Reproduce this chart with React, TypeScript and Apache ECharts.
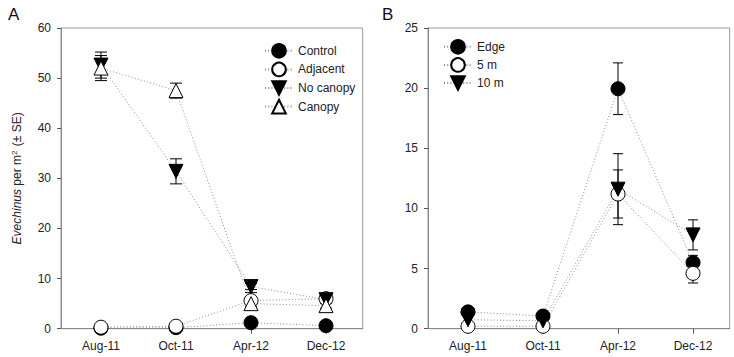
import React, { useEffect, useRef } from "react";
import * as echarts from "echarts";

const categories = ["Aug-11", "Oct-11", "Apr-12", "Dec-12"];
const tickPositions = [0, 1, 2, 3];

// Panel A
const seriesNamesA = ["Control", "Adjacent", "No canopy", "Canopy"];
const controlMean = [0.1, 0.2, 1.2, 0.6];
const controlSE = [0.1, 0.1, 0.5, 0.3];
const adjacentMean = [0.3, 0.5, 5.6, 6.0];
const adjacentSE = [0.2, 0.3, 1.6, 1.0];
const noCanopyMean = [52.6, 31.4, 8.4, 5.8];
const noCanopySE = [2.6, 2.5, 0.6, 0.5];
const canopyMean = [52.0, 47.5, 5.0, 4.6];
const canopySE = [2.5, 1.5, 0.5, 0.5];

// Panel B
const seriesNamesB = ["Edge", "5 m", "10 m"];
const edgeMean = [1.4, 1.05, 19.95, 5.5];
const edgeSE = [0.3, 0.3, 2.15, 0.6];
const fiveMean = [0.2, 0.2, 11.2, 4.6];
const fiveSE = [0.1, 0.1, 2.0, 0.8];
const tenMean = [0.75, 0.65, 11.6, 7.8];
const tenSE = [0.3, 0.3, 2.95, 1.25];

const yTicksA = { min: 0, max: 60, interval: 10 };
const yTicksB = { min: 0, max: 25, interval: 5 };

const FONT = "'Liberation Sans', Arial, sans-serif";

type Style = { symbol: string; rotate: number; filled: boolean };
const STYLE_FILLED_CIRCLE: Style = { symbol: "circle", rotate: 0, filled: true };
const STYLE_OPEN_CIRCLE: Style = { symbol: "circle", rotate: 0, filled: false };
const STYLE_DOWN_TRI: Style = { symbol: "triangle", rotate: 180, filled: true };
const STYLE_UP_TRI: Style = { symbol: "triangle", rotate: 0, filled: false };

function lineSeries(name: string, mean: number[], st: Style, gi: number) {
  return {
    type: "line",
    name,
    xAxisIndex: gi,
    yAxisIndex: gi,
    data: mean.map((v, i) => [i, v]),
    symbol: st.symbol,
    symbolRotate: st.rotate,
    symbolSize: 14,
    showAllSymbol: true,
    lineStyle: { color: "#8a8a8a", width: 1, type: [1, 2.2] },
    itemStyle: {
      color: st.filled ? "#000" : "#fff",
      borderColor: "#000",
      borderWidth: 1,
    },
    emphasis: { disabled: true },
    z: 3,
  };
}

function errSeries(name: string, mean: number[], se: number[], gi: number, cap: number) {
  return {
    type: "custom",
    name,
    xAxisIndex: gi,
    yAxisIndex: gi,
    data: mean.map((v, i) => [i, v, se[i]]),
    encode: { x: 0, y: 1 },
    z: 2,
    silent: true,
    renderItem: (params: any, api: any) => {
      const x = api.value(0);
      const m = api.value(1);
      const s = api.value(2);
      const top = api.coord([x, m + s]);
      const bot = api.coord([x, m - s]);
      const st = { stroke: "#000", lineWidth: 1 };
      return {
        type: "group",
        children: [
          { type: "line", shape: { x1: top[0], y1: top[1], x2: bot[0], y2: bot[1] }, style: st },
          { type: "line", shape: { x1: top[0] - cap, y1: top[1], x2: top[0] + cap, y2: top[1] }, style: st },
          { type: "line", shape: { x1: bot[0] - cap, y1: bot[1], x2: bot[0] + cap, y2: bot[1] }, style: st },
        ],
      };
    },
  };
}

function xAxisFor(gi: number) {
  return {
    type: "value",
    gridIndex: gi,
    min: -0.533,
    max: 3.489,
    axisLine: { show: true, onZero: false, lineStyle: { color: "#888", width: 1 } },
    axisTick: { show: true, customValues: tickPositions, length: 5, lineStyle: { color: "#555" } },
    axisLabel: {
      customValues: tickPositions,
      formatter: (v: number) => categories[Math.round(v)] ?? "",
      fontSize: 12,
      fontFamily: FONT,
      color: "#222",
      margin: 11,
    },
    splitLine: { show: false },
  };
}

function yAxisFor(gi: number, t: { min: number; max: number; interval: number }, name?: string) {
  return {
    type: "value",
    gridIndex: gi,
    min: t.min,
    max: t.max,
    interval: t.interval,
    axisLine: { show: true, onZero: false, lineStyle: { color: "#888", width: 1 } },
    axisTick: { show: true, length: 4, lineStyle: { color: "#555" } },
    axisLabel: { fontSize: 12, fontFamily: FONT, color: "#222", margin: 10 },
    splitLine: { show: false },
    name: name ?? "",
    nameLocation: "middle",
    nameGap: 37,
    nameTextStyle: {
      fontSize: 12,
      fontFamily: FONT,
      color: "#222",
      rich: {
        i: { fontSize: 12, fontStyle: "italic", fontFamily: FONT, color: "#222" },
        s: { fontSize: 8, fontFamily: FONT, color: "#222", verticalAlign: "top", padding: [0, 1, 6, 0] },
      },
    },
  };
}

export default function App() {
  const ref = useRef<HTMLDivElement>(null);
  useEffect(() => {
    if (!ref.current) return;
    const chart = echarts.init(ref.current, undefined, { renderer: "svg" });
    const legendCommon = {
      orient: "vertical",
      itemWidth: 28,
      itemHeight: 17,
      itemGap: 3,
      textStyle: { fontSize: 12, fontFamily: FONT, color: "#222" },
      selectedMode: false,
    };
    chart.setOption({
      animation: false,
      backgroundColor: "#fff",
      title: [
        { text: "A", left: 3, top: 1, textStyle: { fontSize: 17, fontWeight: "normal", fontFamily: FONT, color: "#111" } },
        { text: "B", left: 377, top: 1, textStyle: { fontSize: 17, fontWeight: "normal", fontFamily: FONT, color: "#111" } },
      ],
      grid: [
        { left: 61, top: 28, width: 301.7, height: 300.7, show: true, borderColor: "#999", borderWidth: 1 },
        { left: 428, top: 28, width: 301.7, height: 300.7, show: true, borderColor: "#999", borderWidth: 1 },
      ],
      xAxis: [xAxisFor(0), xAxisFor(1)],
      yAxis: [
        yAxisFor(0, yTicksA, "{i|Evechinus} per m{s|2} (± SE)"),
        yAxisFor(1, yTicksB),
      ],
      legend: [
        { ...legendCommon, data: seriesNamesA, left: 259, top: 38 },
        { ...legendCommon, data: seriesNamesB, left: 438, top: 34, itemGap: 2.5 },
      ],
      series: [
        errSeries("eControl", controlMean, controlSE, 0, 6),
        errSeries("eAdjacent", adjacentMean, adjacentSE, 0, 6),
        errSeries("eNoCanopy", noCanopyMean, noCanopySE, 0, 6),
        errSeries("eCanopy", canopyMean, canopySE, 0, 6),
        lineSeries(seriesNamesA[0], controlMean, STYLE_FILLED_CIRCLE, 0),
        lineSeries(seriesNamesA[1], adjacentMean, STYLE_OPEN_CIRCLE, 0),
        lineSeries(seriesNamesA[2], noCanopyMean, STYLE_DOWN_TRI, 0),
        lineSeries(seriesNamesA[3], canopyMean, STYLE_UP_TRI, 0),
        errSeries("eEdge", edgeMean, edgeSE, 1, 5),
        errSeries("eFive", fiveMean, fiveSE, 1, 5),
        errSeries("eTen", tenMean, tenSE, 1, 5),
        lineSeries(seriesNamesB[0], edgeMean, STYLE_FILLED_CIRCLE, 1),
        lineSeries(seriesNamesB[1], fiveMean, STYLE_OPEN_CIRCLE, 1),
        lineSeries(seriesNamesB[2], tenMean, STYLE_DOWN_TRI, 1),
      ],
    });
    return () => chart.dispose();
  }, []);
  return (
    <div
      ref={ref}
      style={{ position: "absolute", left: 0, top: 0, width: 734, height: 357, background: "#fff" }}
    />
  );
}
